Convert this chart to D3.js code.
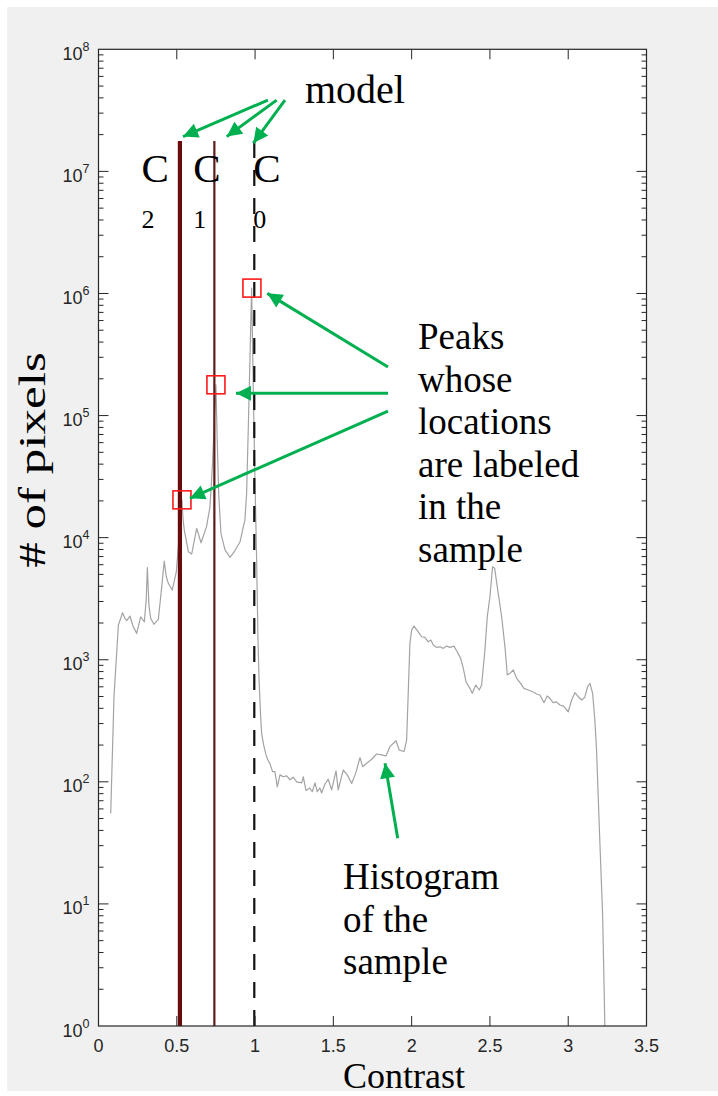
<!DOCTYPE html>
<html>
<head>
<meta charset="utf-8">
<script src="https://cdn.jsdelivr.net/npm/d3@7"></script>
<style>
  html, body { margin: 0; padding: 0; background: #ffffff; }
  svg { display: block; }
</style>
</head>
<body>
<svg id="chart" width="718" height="1096"></svg>
<script>
// ---------------- data ----------------
const contrast = [0.078,0.099,0.127,0.154,0.168,0.180,0.201,0.222,0.244,0.269,0.293,0.305,0.312,0.322,0.333,0.354,0.382,0.400,0.420,0.433,0.446,0.471,0.497,0.510,0.522,0.533,0.540,0.548,0.574,0.595,0.627,0.655,0.690,0.712,0.728,0.741,0.750,0.758,0.768,0.782,0.808,0.840,0.867,0.904,0.925,0.935,0.946,0.957,0.967,0.978,0.989,0.999,1.010,1.018,1.025,1.035,1.042,1.055,1.070,1.082,1.095,1.112,1.127,1.142,1.159,1.180,1.202,1.223,1.244,1.266,1.298,1.308,1.325,1.350,1.365,1.383,1.397,1.414,1.425,1.445,1.467,1.489,1.517,1.531,1.563,1.589,1.617,1.644,1.670,1.687,1.713,1.745,1.776,1.808,1.836,1.861,1.900,1.921,1.951,1.968,1.989,2.000,2.015,2.042,2.064,2.085,2.106,2.123,2.138,2.160,2.181,2.202,2.223,2.245,2.270,2.291,2.313,2.330,2.347,2.372,2.387,2.410,2.432,2.447,2.468,2.483,2.500,2.517,2.530,2.553,2.575,2.596,2.611,2.628,2.649,2.671,2.696,2.717,2.745,2.773,2.798,2.819,2.845,2.866,2.885,2.904,2.925,2.947,2.970,3.000,3.022,3.043,3.064,3.086,3.105,3.124,3.139,3.156,3.170,3.181,3.200,3.220,3.234];
const pixelCount = [55,500,1923,2427,2188,2089,2280,1862,1644,2249,2046,3162,5675,2818,2188,1950,2138,3548,6427,4786,4227,3724,5248,8414,14125,20417,14125,11535,7674,7345,11912,9078,12303,17906,39811,100000,178649,63096,22387,10839,7943,6887,7674,9247,12303,13932,23067,81283,281838,1106624,151356,31623,6561,1585,708,355,249,200,166,151,141,121,121,91,114,110,112,104,109,100,98,110,85,89,83,98,83,89,81,95,105,86,123,86,125,114,97,119,158,133,142,153,169,166,163,194,217,182,177,220,1361,1750,1888,1694,1542,1524,1403,1449,1318,1262,1276,1239,1294,1262,1294,1164,1026,851,661,583,531,621,565,621,1202,2249,3281,5781,5623,3499,2249,1276,750,774,824,705,641,583,565,547,524,514,445,505,479,445,452,426,417,375,468,537,498,468,490,601,641,531,321,182,38,8,1];

// model components (vertical lines)
const modelNames = ["C2", "C1", "C0"];
const modelContrast = [0.52, 0.74, 0.995];
const modelTop = 1.77e7;

// labeled peaks of the sample (red squares)
const peakContrast = [0.533, 0.750, 0.980];
const peakCount = [20400, 178600, 1106600];

// axis ticks
const xTicks = [0, 0.5, 1, 1.5, 2, 2.5, 3, 3.5];
const xTickLabels = ["0", "0.5", "1", "1.5", "2", "2.5", "3", "3.5"];
const yExponents = [0, 1, 2, 3, 4, 5, 6, 7, 8];

// annotation arrows in data coordinates: [contrast, log10(count)] (tail -> tip)
const modelArrowTail = [[1.082, 7.584], [1.138, 7.584], [1.191, 7.584]];
const modelArrowTip  = [[0.540, 7.285], [0.819, 7.285], [0.989, 7.231]];
const peakArrowTail  = [[1.849, 5.397], [1.849, 5.182], [1.849, 5.037]];
const peakArrowTip   = [[1.078, 6.001], [0.878, 5.182], [0.584, 4.322]];
const histArrowTail  = [[1.911, 1.537]];
const histArrowTip   = [[1.830, 2.152]];

// ---------------- layout ----------------
const W = 718, H = 1096;
const plot = { left: 98.5, right: 646.5, top: 49.3, bottom: 1026 };
const axisColor = "#262626";
const green = "#00b050";

const svg = d3.select("#chart");

// figure background
svg.append("rect").attr("x", 0).attr("y", 0).attr("width", W).attr("height", H).attr("fill", "#ffffff");
svg.append("rect").attr("x", 7).attr("y", 7).attr("width", W - 7).attr("height", 1091 - 7).attr("fill", "#f0f0f0");

const x = d3.scaleLinear().domain([0, 3.5]).range([plot.left, plot.right]);
const y = d3.scaleLog().domain([1, 1e8]).range([plot.bottom, plot.top]);

// plot area
svg.append("rect")
  .attr("x", plot.left).attr("y", plot.top)
  .attr("width", plot.right - plot.left).attr("height", plot.bottom - plot.top)
  .attr("fill", "#ffffff");

// defs: arrowhead
const defs = svg.append("defs");
defs.append("marker")
  .attr("id", "arrow")
  .attr("viewBox", "0 0 10 10")
  .attr("refX", 10).attr("refY", 5)
  .attr("markerUnits", "userSpaceOnUse")
  .attr("markerWidth", 17).attr("markerHeight", 15)
  .attr("orient", "auto")
  .append("path").attr("d", "M0,0 L10,5 L0,10 Z").attr("fill", green);

defs.append("clipPath").attr("id", "clip")
  .append("rect").attr("x", plot.left).attr("y", plot.top)
  .attr("width", plot.right - plot.left).attr("height", plot.bottom - plot.top);

// histogram line
const line = d3.line()
  .x((d, i) => x(contrast[i]))
  .y(d => y(d));
svg.append("path")
  .datum(pixelCount)
  .attr("clip-path", "url(#clip)")
  .attr("d", line)
  .attr("fill", "none")
  .attr("stroke", "#a3a3a3")
  .attr("stroke-width", 1.2)
  .attr("stroke-linejoin", "round");

// model vertical lines
const modelStyles = [
  { color: "#6a0a0a", width: 4.2, dash: null },
  { color: "#5a1c1c", width: 2.2, dash: null },
  { color: "#111111", width: 2.2, dash: "16,12" }
];
modelContrast.forEach((c, i) => {
  const s = modelStyles[i];
  const ln = svg.append("line")
    .attr("x1", x(c)).attr("x2", x(c))
    .attr("y1", y(1)).attr("y2", y(modelTop))
    .attr("stroke", s.color)
    .attr("stroke-width", s.width);
  if (s.dash) ln.attr("stroke-dasharray", s.dash);
});

// red squares on peaks
peakContrast.forEach((c, i) => {
  svg.append("rect")
    .attr("x", x(c) - 9).attr("y", y(peakCount[i]) - 9)
    .attr("width", 18).attr("height", 18)
    .attr("fill", "none")
    .attr("stroke", "#ff1a1a")
    .attr("stroke-width", 1.6);
});

// axes box
svg.append("rect")
  .attr("x", plot.left).attr("y", plot.top)
  .attr("width", plot.right - plot.left).attr("height", plot.bottom - plot.top)
  .attr("fill", "none").attr("stroke", axisColor).attr("stroke-width", 1.2);

// x ticks (inside, bottom and top)
const gx = svg.append("g");
xTicks.forEach((t, i) => {
  const px = x(t);
  if (i > 0 && i < xTicks.length - 1) {
    gx.append("line").attr("x1", px).attr("x2", px).attr("y1", plot.bottom).attr("y2", plot.bottom - 10)
      .attr("stroke", axisColor).attr("stroke-width", 1);
    gx.append("line").attr("x1", px).attr("x2", px).attr("y1", plot.top).attr("y2", plot.top + 10)
      .attr("stroke", axisColor).attr("stroke-width", 1);
  }
  gx.append("text")
    .attr("x", px).attr("y", plot.bottom + 26)
    .attr("text-anchor", "middle")
    .attr("font-family", "'Liberation Sans', Arial, sans-serif")
    .attr("font-size", 18)
    .attr("fill", axisColor)
    .text(xTickLabels[i]);
});

// y ticks (major + minor, left and right, inside)
const gy = svg.append("g");
yExponents.forEach(e => {
  const py = y(Math.pow(10, e));
  if (e > 0 && e < 8) {
    gy.append("line").attr("x1", plot.left).attr("x2", plot.left + 10).attr("y1", py).attr("y2", py)
      .attr("stroke", axisColor).attr("stroke-width", 1);
    gy.append("line").attr("x1", plot.right).attr("x2", plot.right - 10).attr("y1", py).attr("y2", py)
      .attr("stroke", axisColor).attr("stroke-width", 1);
  }
  if (e < 8) {
    for (let m = 2; m <= 9; m++) {
      const pm = y(m * Math.pow(10, e));
      gy.append("line").attr("x1", plot.left).attr("x2", plot.left + 5).attr("y1", pm).attr("y2", pm)
        .attr("stroke", axisColor).attr("stroke-width", 1);
      gy.append("line").attr("x1", plot.right).attr("x2", plot.right - 5).attr("y1", pm).attr("y2", pm)
        .attr("stroke", axisColor).attr("stroke-width", 1);
    }
  }
  const t = gy.append("text")
    .attr("x", plot.left - 9).attr("y", py + 10.5)
    .attr("text-anchor", "end")
    .attr("font-family", "'Liberation Sans', Arial, sans-serif")
    .attr("font-size", 18)
    .attr("fill", axisColor);
  t.append("tspan").text("10");
  t.append("tspan").attr("font-size", 12.5).attr("dy", -9).text(String(e));
});

// axis titles
const serif = "'Liberation Serif', 'Times New Roman', serif";
svg.append("text")
  .attr("x", 404).attr("y", 1088)
  .attr("text-anchor", "middle")
  .attr("font-family", serif).attr("font-size", 36)
  .attr("fill", "#000").text("Contrast");
svg.append("text")
  .attr("transform", "translate(45,460) rotate(-90) scale(1.38,1)")
  .attr("text-anchor", "middle")
  .attr("font-family", serif).attr("font-size", 37)
  .attr("fill", "#000").text("# of pixels");

// model labels
const modelLabelX = [141.5, 193.3, 253.3];
modelNames.forEach((n, i) => {
  svg.append("text").attr("x", modelLabelX[i]).attr("y", 182)
    .attr("font-family", serif).attr("font-size", 41).attr("fill", "#000").text("C");
  svg.append("text").attr("x", modelLabelX[i]).attr("y", 228)
    .attr("font-family", serif).attr("font-size", 26).attr("fill", "#000").text(n.slice(1));
});

// text annotations
svg.append("text").attr("x", 305).attr("y", 103)
  .attr("font-family", serif).attr("font-size", 40).attr("fill", "#000").text("model");

const peakLines = ["Peaks", "whose", "locations", "are labeled", "in the", "sample"];
peakLines.forEach((s, i) => {
  svg.append("text").attr("x", 418).attr("y", 349 + i * 42.6)
    .attr("font-family", serif).attr("font-size", 37).attr("fill", "#000").text(s);
});
const histLines = ["Histogram", "of the", "sample"];
histLines.forEach((s, i) => {
  svg.append("text").attr("x", 343).attr("y", 889 + i * 42.6)
    .attr("font-family", serif).attr("font-size", 37).attr("fill", "#000").text(s);
});

// green arrows
function drawArrows(tails, tips) {
  tails.forEach((t, i) => {
    svg.append("line")
      .attr("x1", x(t[0])).attr("y1", y(Math.pow(10, t[1])))
      .attr("x2", x(tips[i][0])).attr("y2", y(Math.pow(10, tips[i][1])))
      .attr("stroke", green).attr("stroke-width", 3)
      .attr("marker-end", "url(#arrow)");
  });
}
drawArrows(modelArrowTail, modelArrowTip);
drawArrows(peakArrowTail, peakArrowTip);
drawArrows(histArrowTail, histArrowTip);
</script>
</body>
</html>
